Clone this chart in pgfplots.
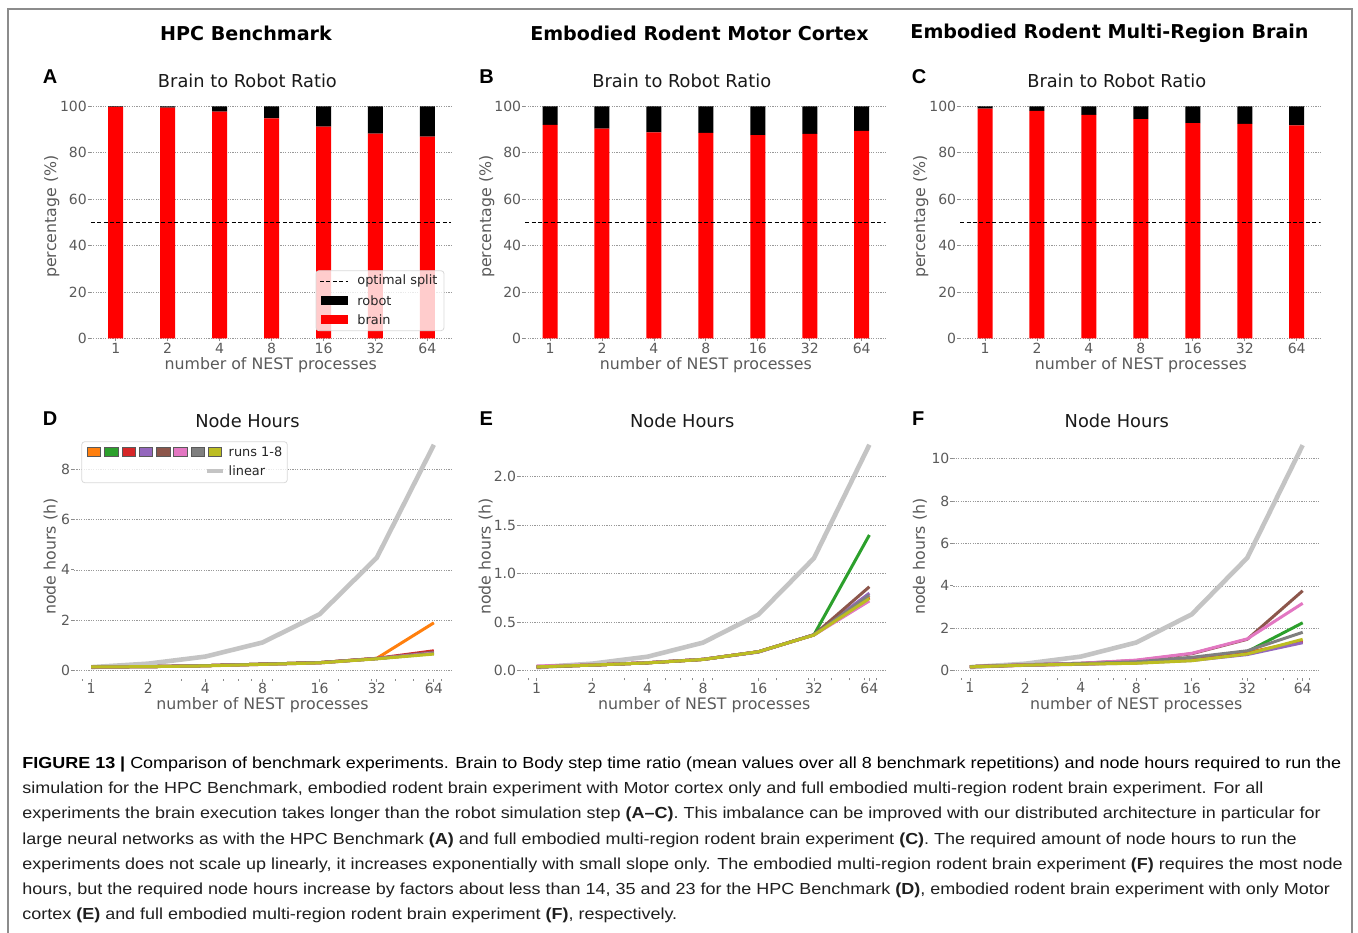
\documentclass[border=0pt]{standalone}
\usepackage{pgfplots}
\usepackage{pgfplotstable}
\pgfplotsset{compat=1.18}
\usepackage{fontspec}
\usepackage{graphicx}
\setmainfont{DejaVu Sans}
\newfontfamily\capfont{Liberation Sans}
\newfontfamily\letterfont{Liberation Sans}

\definecolor{tabOrange}{HTML}{FF7F0E}
\definecolor{tabGreen}{HTML}{2CA02C}
\definecolor{tabRed}{HTML}{D62728}
\definecolor{tabPurple}{HTML}{9467BD}
\definecolor{tabBrown}{HTML}{8C564B}
\definecolor{tabPink}{HTML}{E377C2}
\definecolor{tabGray}{HTML}{7F7F7F}
\definecolor{tabOlive}{HTML}{BCBD22}
\definecolor{lingray}{HTML}{C4C4C4}
\definecolor{barred}{HTML}{FF0000}
\definecolor{ticktext}{HTML}{5A5A5A}
\definecolor{framegray}{HTML}{8C8C8C}

% ---------------- data ----------------
\pgfplotstableread{
x brain robot
0 99.8 0.2
1 99.4 0.6
2 97.7 2.3
3 94.8 5.2
4 91.2 8.8
5 88.2 11.8
6 86.9 13.1
}\ratioA
\pgfplotstableread{
x brain robot
0 92.0 8.0
1 90.4 9.6
2 88.8 11.2
3 88.5 11.5
4 87.6 12.4
5 88.1 11.9
6 89.4 10.6
}\ratioB
\pgfplotstableread{
x brain robot
0 99.0 1.0
1 98.0 2.0
2 96.3 3.7
3 94.5 5.5
4 92.8 7.2
5 92.4 7.6
6 91.8 8.2
}\ratioC
\pgfplotstableread{
n  lin  r1   r2   r3   r4   r5   r6   r7   r8
1  0.14 0.15 0.15 0.15 0.15 0.15 0.15 0.15 0.15
2  0.28 0.16 0.16 0.16 0.16 0.16 0.16 0.16 0.16
4  0.56 0.20 0.20 0.20 0.20 0.20 0.20 0.20 0.19
8  1.12 0.26 0.26 0.26 0.25 0.26 0.25 0.26 0.25
16 2.24 0.32 0.32 0.32 0.31 0.32 0.31 0.32 0.31
32 4.48 0.49 0.48 0.49 0.48 0.48 0.48 0.48 0.47
64 8.96 1.90 0.70 0.79 0.72 0.74 0.70 0.68 0.66
}\nodeD
\pgfplotstableread{
n  lin   r1    r2    r3    r4    r5    r6    r7    r8
1  0.036 0.040 0.040 0.040 0.040 0.040 0.050 0.040 0.040
2  0.073 0.058 0.058 0.058 0.058 0.058 0.060 0.058 0.058
4  0.145 0.082 0.082 0.082 0.082 0.082 0.084 0.082 0.081
8  0.290 0.117 0.117 0.117 0.117 0.117 0.118 0.117 0.116
16 0.580 0.196 0.196 0.196 0.192 0.196 0.196 0.196 0.196
32 1.160 0.370 0.370 0.370 0.372 0.370 0.368 0.370 0.368
64 2.330 0.760 1.400 0.750 0.800 0.866 0.720 0.780 0.745
}\nodeE
\pgfplotstableread{
n  lin   r1   r2   r3   r4   r5   r6   r7   r8
1  0.166 0.19 0.19 0.19 0.18 0.19 0.19 0.19 0.18
2  0.33  0.26 0.27 0.26 0.25 0.28 0.28 0.27 0.26
4  0.665 0.32 0.33 0.32 0.30 0.35 0.35 0.34 0.31
8  1.33  0.38 0.40 0.38 0.36 0.48 0.50 0.42 0.35
16 2.66  0.55 0.60 0.52 0.48 0.80 0.82 0.63 0.47
32 5.32  0.85 0.90 0.82 0.76 1.48 1.50 0.94 0.79
64 10.64 1.40 2.26 1.38 1.32 3.77 3.18 1.81 1.48
}\nodeF

\pgfplotsset{
  myCommon/.style={
    scale only axis, anchor=south west,
    enlargelimits=false,
    axis line style={draw=none},
    ymajorgrids,
    grid style={black!40, line width=0.35pt, dash pattern=on 0.6pt off 0.6pt},
    tick align=outside, xtick pos=bottom, ytick pos=left,
    major tick length=1.5pt, minor tick length=1pt,
    tick style={black!45, line width=0.4pt},
    /pgf/number format/assume math mode=true,
    tick label style={font=\fontsize{7}{8}\selectfont, text=ticktext, inner sep=0pt},
    yticklabel style={xshift=-0.3pt},
    xticklabel style={yshift=-0.6pt},
  },
  myBarAx/.style={
    myCommon,
    width=180.25pt, height=121.8pt,
    xmin=-0.48, xmax=6.46, ymin=0, ymax=105,
    xtick={0,...,6}, xticklabels={1,2,4,8,16,32,64},
    ytick={0,20,40,60,80,100},
    ybar stacked, bar width=7.5pt,
  },
  myDashAx/.style={
    scale only axis, anchor=south west, hide axis,
    width=180.25pt, height=121.8pt,
    xmin=-0.48, xmax=6.46, ymin=0, ymax=105,
  },
  myLineAx/.style={
    myCommon,
    xmin=0.8123, xmax=78.79,
    xtick={1,2,4,8,16,32,64}, xticklabels={1,2,4,8,16,32,64},
    extra x ticks={0.9,3,5,6,7,9,20,30,40,50,60,70},
    extra x tick labels={},
    extra x tick style={major tick length=1pt, grid=none},
  },
  myRun/.style={line width=1.5pt, line join=round},
  myLin/.style={line width=2.3pt, lingray, line join=round},
}

\newsavebox\capbox
\newcommand\capsize{\capfont\fontsize{8}{10}\selectfont}

\begin{document}%
\sbox\capbox{\capsize\textbf{FIGURE 13 |} Comparison of benchmark experiments. Brain to Body step time ratio (mean values over all 8 benchmark repetitions) and node hours required to run the}%
\pgfmathsetmacro\capscale{659.5/\wd\capbox}%
\begin{tikzpicture}
\begin{scope}[x=0.5pt, y=-0.5pt]
\path[use as bounding box] (0,0) rectangle (1358,932);
\draw[framegray, line width=0.8pt] (8,934) -- (8,9) -- (1352,9) -- (1352,934);
\end{scope}

% ---------- bar panels ----------
\begin{axis}[myBarAx, at={(45.4pt,-169.15pt)}]
\addplot[fill=barred, draw=none] table[x=x, y=brain]{\ratioA};
\addplot[fill=black, draw=none] table[x=x, y=robot]{\ratioA};
\end{axis}
\begin{axis}[myDashAx, at={(45.4pt,-169.15pt)}]
\addplot[black, line width=0.5pt, dash pattern=on 2pt off 1.2pt] coordinates {(-0.48,50) (6.46,50)};
\end{axis}

\begin{axis}[myBarAx, at={(262.55pt,-169.15pt)}]
\addplot[fill=barred, draw=none] table[x=x, y=brain]{\ratioB};
\addplot[fill=black, draw=none] table[x=x, y=robot]{\ratioB};
\end{axis}
\begin{axis}[myDashAx, at={(262.55pt,-169.15pt)}]
\addplot[black, line width=0.5pt, dash pattern=on 2pt off 1.2pt] coordinates {(-0.48,50) (6.46,50)};
\end{axis}

\begin{axis}[myBarAx, at={(480.05pt,-169.15pt)}]
\addplot[fill=barred, draw=none] table[x=x, y=brain]{\ratioC};
\addplot[fill=black, draw=none] table[x=x, y=robot]{\ratioC};
\end{axis}
\begin{axis}[myDashAx, at={(480.05pt,-169.15pt)}]
\addplot[black, line width=0.5pt, dash pattern=on 2pt off 1.2pt] coordinates {(-0.48,50) (6.46,50)};
\end{axis}

% ---------- line panels ----------
\begin{axis}[xmode=log, myLineAx, at={(37pt,-339.25pt)}, width=188.5pt, height=122.4pt,
  ymin=-0.31, ymax=9.4, ytick={0,2,4,6,8}]
\addplot[myLin] table[x=n, y=lin]{\nodeD};
\addplot[myRun, tabOrange] table[x=n, y=r1]{\nodeD};
\addplot[myRun, tabGreen]  table[x=n, y=r2]{\nodeD};
\addplot[myRun, tabRed]    table[x=n, y=r3]{\nodeD};
\addplot[myRun, tabPurple] table[x=n, y=r4]{\nodeD};
\addplot[myRun, tabBrown]  table[x=n, y=r5]{\nodeD};
\addplot[myRun, tabPink]   table[x=n, y=r6]{\nodeD};
\addplot[myRun, tabGray]   table[x=n, y=r7]{\nodeD};
\addplot[myRun, tabOlive]  table[x=n, y=r8]{\nodeD};
\end{axis}

\begin{axis}[xmode=log, myLineAx, at={(260pt,-339.15pt)}, width=183pt, height=122.1pt,
  ymin=-0.078, ymax=2.44, ytick={0,0.5,1,1.5,2},
  yticklabel style={/pgf/number format/.cd, fixed, fixed zerofill, precision=1}]
\addplot[myLin] table[x=n, y=lin]{\nodeE};
\addplot[myRun, tabOrange] table[x=n, y=r1]{\nodeE};
\addplot[myRun, tabGreen]  table[x=n, y=r2]{\nodeE};
\addplot[myRun, tabRed]    table[x=n, y=r3]{\nodeE};
\addplot[myRun, tabPurple] table[x=n, y=r4]{\nodeE};
\addplot[myRun, tabBrown]  table[x=n, y=r5]{\nodeE};
\addplot[myRun, tabPink]   table[x=n, y=r6]{\nodeE};
\addplot[myRun, tabGray]   table[x=n, y=r7]{\nodeE};
\addplot[myRun, tabOlive]  table[x=n, y=r8]{\nodeE};
\end{axis}

\begin{axis}[xmode=log, myLineAx, at={(476.65pt,-339.05pt)}, width=183pt, height=122pt,
  ymin=-0.35, ymax=11.16, ytick={0,2,4,6,8,10}]
\addplot[myLin] table[x=n, y=lin]{\nodeF};
\addplot[myRun, tabOrange] table[x=n, y=r1]{\nodeF};
\addplot[myRun, tabGreen]  table[x=n, y=r2]{\nodeF};
\addplot[myRun, tabRed]    table[x=n, y=r3]{\nodeF};
\addplot[myRun, tabPurple] table[x=n, y=r4]{\nodeF};
\addplot[myRun, tabBrown]  table[x=n, y=r5]{\nodeF};
\addplot[myRun, tabPink]   table[x=n, y=r6]{\nodeF};
\addplot[myRun, tabGray]   table[x=n, y=r7]{\nodeF};
\addplot[myRun, tabOlive]  table[x=n, y=r8]{\nodeF};
\end{axis}

\begin{scope}[x=0.5pt, y=-0.5pt]
% ---------- legends ----------
\draw[draw=black!15, fill=white, fill opacity=0.8, rounded corners=1.5pt, line width=0.4pt] (316,270.7) rectangle (444,330.7);
\draw[black, line width=0.5pt, dash pattern=on 2pt off 1.2pt] (320,281) -- (348,281);
\fill[black] (321,296) rectangle (348,305);
\fill[barred] (321,315) rectangle (348,324);
\begin{scope}[every node/.style={anchor=west, inner sep=0pt, font=\fontsize{6.45}{7.5}\selectfont, text=black!85}]
\node at (357,281) {optimal split};
\node at (357,300.5) {robot};
\node at (357,319.5) {brain};
\end{scope}

\draw[draw=black!15, fill=white, fill opacity=0.8, rounded corners=1.5pt, line width=0.4pt] (81.7,441.7) rectangle (287.3,482.7);
\foreach \c [count=\i from 0] in {tabOrange,tabGreen,tabRed,tabPurple,tabBrown,tabPink,tabGray,tabOlive}{
  \filldraw[fill=\c, draw=black!65, line width=0.35pt] ({87.3+17.29*\i},447.7) rectangle ({100.7+17.29*\i},456.7);
}
\draw[lingray, line width=2pt] (206.7,471) -- (222.7,471);
\begin{scope}[every node/.style={anchor=west, inner sep=0pt, font=\fontsize{6.45}{7.5}\selectfont, text=black!85}]
\node at (228.3,452) {runs 1-8};
\node at (228.3,471) {linear};
\end{scope}

% ---------- headings ----------
\begin{scope}[every node/.style={inner sep=0pt, font=\fontsize{9.55}{11}\selectfont\bfseries}]
\node at (246,33) {HPC Benchmark};
\node at (699.5,33) {Embodied Rodent Motor Cortex};
\node at (1109.5,33) {Embodied Rodent Multi-Region Brain};
\end{scope}

% panel letters
\begin{scope}[every node/.style={inner sep=0pt, font=\letterfont\fontsize{10}{12}\selectfont\bfseries}]
\node at (50,77) {A};
\node at (486.7,77) {B};
\node at (919,77) {C};
\node at (50,418.3) {D};
\node at (486.3,418.3) {E};
\node at (918.3,418.3) {F};
\end{scope}

% titles
\begin{scope}[every node/.style={inner sep=0pt, font=\fontsize{8.9}{10}\selectfont, text=black!90}]
\node at (247.4,80.7) {Brain to Robot Ratio};
\node at (681.7,80.7) {Brain to Robot Ratio};
\node at (1116.7,80.7) {Brain to Robot Ratio};
\node at (247.4,420.7) {Node Hours};
\node at (682.2,420.7) {Node Hours};
\node at (1116.8,420.7) {Node Hours};
\end{scope}

% axis labels
\begin{scope}[every node/.style={inner sep=0pt, font=\fontsize{7.9}{9}\selectfont, text=ticktext}]
\node at (270.7,365) {number of NEST processes};
\node at (705.8,365) {number of NEST processes};
\node at (1140.8,365) {number of NEST processes};
\node at (262.5,705) {number of NEST processes};
\node at (704.2,705) {number of NEST processes};
\node at (1136.2,705) {number of NEST processes};
\node[rotate=90] at (51.7,216.7) {percentage (\%)};
\node[rotate=90] at (486.7,216.7) {percentage (\%)};
\node[rotate=90] at (920.7,216.7) {percentage (\%)};
\node[rotate=90] at (50.7,556.7) {node hours (h)};
\node[rotate=90] at (485.7,556.7) {node hours (h)};
\node[rotate=90] at (920,556.7) {node hours (h)};
\end{scope}

% ---------- caption ----------
\begin{scope}[every node/.style={anchor=base west, inner sep=0pt, text=black!88}]
\node at (22,768.5) {\scalebox{\capscale}[1]{\usebox\capbox}};
\node at (22,793.7) {\scalebox{\capscale}[1]{\capsize simulation for the HPC Benchmark, embodied rodent brain experiment with Motor cortex only and full embodied multi-region rodent brain experiment. For all}};
\node at (22,818.9) {\scalebox{\capscale}[1]{\capsize experiments the brain execution takes longer than the robot simulation step \textbf{(A–C)}. This imbalance can be improved with our distributed architecture in particular for}};
\node at (22,844.1) {\scalebox{\capscale}[1]{\capsize large neural networks as with the HPC Benchmark \textbf{(A)} and full embodied multi-region rodent brain experiment \textbf{(C)}. The required amount of node hours to run the}};
\node at (22,869.3) {\scalebox{\capscale}[1]{\capsize experiments does not scale up linearly, it increases exponentially with small slope only. The embodied multi-region rodent brain experiment \textbf{(F)} requires the most node}};
\node at (22,894.5) {\scalebox{\capscale}[1]{\capsize hours, but the required node hours increase by factors about less than 14, 35 and 23 for the HPC Benchmark \textbf{(D)}, embodied rodent brain experiment with only Motor}};
\node at (22,919.7) {\scalebox{\capscale}[1]{\capsize cortex \textbf{(E)} and full embodied multi-region rodent brain experiment \textbf{(F)}, respectively.}};
\end{scope}
\end{scope}
\end{tikzpicture}%
\end{document}
